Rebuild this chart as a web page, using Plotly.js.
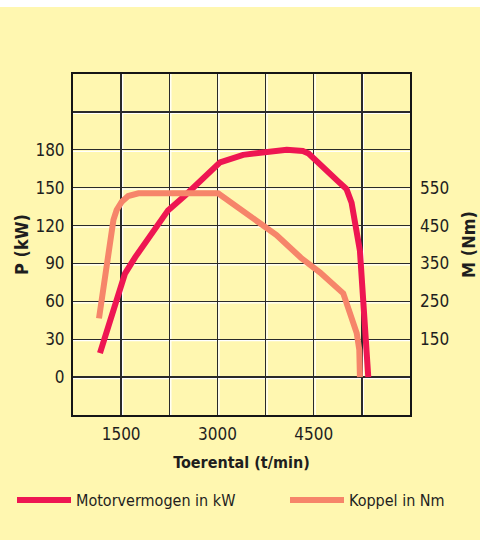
<!DOCTYPE html>
<html>
<head>
<meta charset="utf-8">
<script src="https://cdn.plot.ly/plotly-3.0.1.min.js"></script>
<style>html,body{margin:0;padding:0;background:#fff;}#chart{width:480px;height:540px;}</style>
</head>
<body>
<div id="chart"></div>
<script>
// Motorvermogen (kW) vs toerental
const rpmPower = [1170,1250,1330,1440,1510,1560,1720,1980,2230,2500,2760,3040,3400,3820,4080,4330,4420,4880,5010,5090,5140,5195,5220,5350];
const powerKW  = [19,32,45,63,77,82,95,114,132,144,156,170,176,179,180,179,177,155,149,138,124,109,100,0];
// Koppel (Nm) vs toerental
const rpmTorque = [1155,1250,1380,1430,1510,1610,1770,3010,3400,3920,4300,4600,4960,5070,5170,5210,5220];
const torqueNm  = [205,306,465,491,513,528,535,535,487,425,365,326,271,210,166,122,50];

const xTickVals = [1500,3000,4500];
const xTickText = ['1500','3000','4500'];
const yTickVals = [0,30,60,90,120,150,180];
const y2TickVals = [150,250,350,450,550];

const seriesNames = ['Motorvermogen in kW','Koppel in Nm'];
const titles = {x:'Toerental (t/min)', y:'P (kW)', y2:'M (Nm)'};

const FONT = 'DejaVu Sans Condensed, DejaVu Sans, sans-serif';
const BG = '#FFF7B0';
const RED = '#EE1652';
const ORANGE = '#F6856A';
const DARK = '#2a2a2a';
const TXT = '#1e1e1e';

const X_RANGE = [750,6000], X_GRID = 750;
const Y_RANGE = [-30,240], Y_GRID = 30;

const traces = [
  {x: rpmPower, y: powerKW, name: seriesNames[0], type:'scatter', mode:'lines',
   line:{color:RED, width:6}, xaxis:'x', yaxis:'y', hoverinfo:'skip', legend:'legend'},
  {x: rpmTorque, y: torqueNm, name: seriesNames[1], type:'scatter', mode:'lines',
   line:{color:ORANGE, width:6}, xaxis:'x', yaxis:'y2', hoverinfo:'skip', legend:'legend2'}
];

// white highlight next to each grid line (embossed grid look)
const shapes = [];
for (let v = X_RANGE[0] + X_GRID; v < X_RANGE[1]; v += X_GRID) {
  shapes.push({type:'line', xref:'x', yref:'paper', xsizemode:'pixel', xanchor:v, x0:1.5, x1:1.5,
    y0:0, y1:1, line:{color:'#ffffff', width:1.3}, layer:'between'});
}
for (let v = Y_RANGE[0] + Y_GRID; v < Y_RANGE[1]; v += Y_GRID) {
  shapes.push({type:'line', xref:'paper', yref:'y', ysizemode:'pixel', yanchor:v, y0:-1.5, y1:-1.5,
    x0:0, x1:1, line:{color:'#ffffff', width:1.3}, layer:'between'});
}
shapes.push({type:'rect', xref:'paper', yref:'paper', x0:-0.3, x1:1.3, y0:1+67/341, y1:1+80/341,
  fillcolor:'#ffffff', line:{width:0}, layer:'above'});

const legendBase = {orientation:'h', xref:'container', yref:'container', y:1-500/540,
  xanchor:'left', yanchor:'middle', bgcolor:'rgba(0,0,0,0)', itemwidth:54,
  font:{family:FONT, size:16, color:TXT}};

const layout = {
  width:480, height:540,
  margin:{l:73, r:70, t:74, b:125},
  paper_bgcolor:BG, plot_bgcolor:BG,
  showlegend:true,
  font:{family:FONT, color:TXT},
  xaxis:{range:X_RANGE, tickvals:xTickVals, ticktext:xTickText, ticks:'',
    showgrid:true, gridcolor:DARK, gridwidth:1.4,
    minor:{tick0:0, dtick:X_GRID, showgrid:true, gridcolor:DARK, gridwidth:1.4},
    showline:true, linecolor:'#151515', linewidth:2, mirror:true, zeroline:false,
    tickfont:{family:FONT, size:17, color:TXT}, ticklabelstandoff:3,
    title:{text:titles.x, font:{family:FONT, size:16, color:TXT, weight:'bold'}, standoff:13}},
  yaxis:{range:Y_RANGE, tickvals:yTickVals, ticks:'',
    showgrid:true, gridcolor:DARK, gridwidth:1.4,
    minor:{tick0:0, dtick:Y_GRID, showgrid:true, gridcolor:DARK, gridwidth:1.4},
    showline:true, linecolor:'#151515', linewidth:2, mirror:true, zeroline:false,
    tickfont:{family:FONT, size:17, color:TXT}, ticklabelstandoff:3,
    title:{text:titles.y, font:{family:FONT, size:18, color:TXT, weight:'bold'}, standoff:2}},
  yaxis2:{overlaying:'y', side:'right', range:[-50,850], tickvals:y2TickVals, ticks:'',
    showgrid:false, zeroline:false, showline:false,
    tickfont:{family:FONT, size:17, color:TXT}, ticklabelstandoff:9,
    title:{text:titles.y2, font:{family:FONT, size:18, color:TXT, weight:'bold'}, standoff:14}},
  legend:Object.assign({}, legendBase, {x:12/480}),
  legend2:Object.assign({}, legendBase, {x:285/480}),
  shapes:shapes
};

Plotly.newPlot('chart', traces, layout, {staticPlot:true, displayModeBar:false});
</script>
</body>
</html>
